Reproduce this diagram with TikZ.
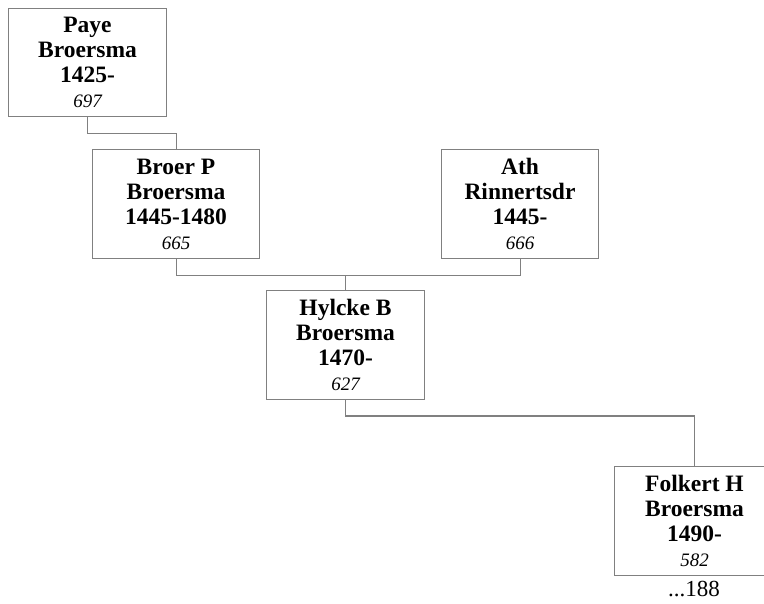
\documentclass[tikz,border=0pt]{standalone}
\usepackage{fontspec}
\setmainfont{Liberation Serif}
\definecolor{linegray}{RGB}{128,128,128}
\begin{document}
\begin{tikzpicture}[x=1pt,y=-1pt,
  person/.style={draw=linegray, line width=1pt, anchor=north west, inner sep=0pt,
    align=center, font=\fontsize{23.5}{25}\selectfont\bfseries},
  conn/.style={draw=linegray, line width=1pt},
  num/.style={font=\fontsize{23}{25}\selectfont}]
\useasboundingbox (0,0) rectangle (764,604);
\clip (0,0) rectangle (764,604);
\newcommand{\refnum}[1]{{\mdseries\itshape\fontsize{19}{25}\selectfont #1}}
\node[person, minimum width=158pt, minimum height=108pt] (paye) at (8,8)
  {Paye\\Broersma\\1425-\\\refnum{697}};
\node[person, minimum width=167pt, minimum height=109pt] (broer) at (92,149)
  {Broer P\\Broersma\\1445-1480\\\refnum{665}};
\node[person, minimum width=157pt, minimum height=109pt] (ath) at (441,149)
  {Ath\\Rinnertsdr\\1445-\\\refnum{666}};
\node[person, minimum width=158pt, minimum height=109pt] (hylcke) at (266,290)
  {Hylcke B\\Broersma\\1470-\\\refnum{627}};
\node[person, minimum width=160pt, minimum height=109pt] (folkert) at (614,466)
  {Folkert H\\Broersma\\1490-\\\refnum{582}};
\node[num, anchor=base] (more) at (694,596) {...188};
\draw[conn] (paye.south) -- ++(0,17) coordinate (pb) -| (broer.north);
\draw[conn] (broer.south) -- ++(0,17) coordinate (ba) -| (ath.south);
\draw[conn] (hylcke.north) -- (hylcke.north |- ba);
\draw[conn] (hylcke.south) -- ++(0,16) coordinate (hf) -| (folkert.north);
\end{tikzpicture}
\end{document}
